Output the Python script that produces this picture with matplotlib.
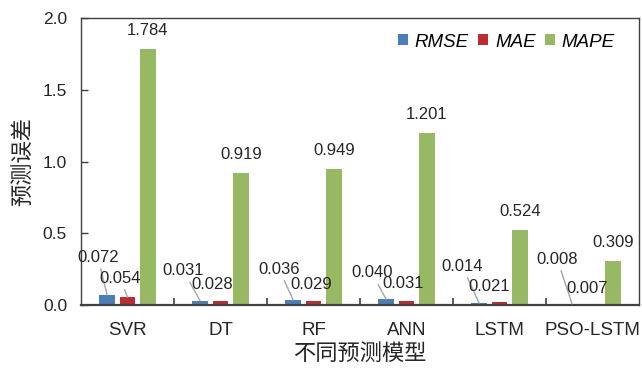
import numpy as np
import matplotlib
matplotlib.use('Agg')
import matplotlib.pyplot as plt

plt.rcParams['font.family'] = ['Liberation Sans', 'Noto Sans CJK SC']

# -----------------------------
# Dados
# -----------------------------
modelos = ['SVR', 'DT', 'RF', 'ANN', 'LSTM', 'PSO-LSTM']
rmse = [0.072, 0.031, 0.036, 0.040, 0.014, 0.008]
mae = [0.054, 0.028, 0.029, 0.031, 0.021, 0.007]
mape = [1.784, 0.919, 0.949, 1.201, 0.524, 0.309]

# posição dos rótulos (deslocamento x em relação ao grupo, altura y)
pos_rmse = [(-0.32, 0.334), (-0.40, 0.237), (-0.37, 0.250),
            (-0.37, 0.223), (-0.40, 0.270), (-0.38, 0.320)]
pos_mae = [(-0.08, 0.188), (-0.09, 0.146), (-0.02, 0.146),
           (-0.04, 0.153), (-0.11, 0.130), (-0.06, 0.118)]
linha_mae = [True, False, False, False, False, False]

cores = ['#4A7EBB', '#BE2B31', '#98B964']
cor_eixo = '#404040'
cor_linha = '#A6A6A6'
cor_texto = '#262626'

x = np.arange(len(modelos))
larg = 0.172
passo = 0.22

fig = plt.figure(figsize=(6.42, 3.69), dpi=100)
ax = fig.add_axes([81 / 642, 1 - 305 / 369, (639 - 81) / 642, (305 - 18) / 369])

ax.bar(x - passo, rmse, larg, color=cores[0], label='RMSE')
ax.bar(x, mae, larg, color=cores[1], label='MAE')
ax.bar(x + passo, mape, larg, color=cores[2], label='MAPE')

fs = 12
for i in range(len(modelos)):
    dx, y = pos_rmse[i]
    ax.annotate(f'{rmse[i]:.3f}', xy=(x[i] - passo, rmse[i]),
                xytext=(x[i] + dx, y), ha='center', va='center',
                fontsize=fs, color=cor_texto,
                arrowprops=dict(arrowstyle='-', color=cor_linha, lw=1,
                                shrinkA=1, shrinkB=0))
    dx, y = pos_mae[i]
    props = None
    if linha_mae[i]:
        props = dict(arrowstyle='-', color=cor_linha, lw=1, shrinkA=1, shrinkB=0)
    ax.annotate(f'{mae[i]:.3f}', xy=(x[i], mae[i]),
                xytext=(x[i] + dx, y), ha='center', va='center',
                fontsize=fs, color=cor_texto, arrowprops=props)
    ax.annotate(f'{mape[i]:.3f}', xy=(x[i] + passo, mape[i]),
                xytext=(0, 8), textcoords='offset points',
                ha='center', va='bottom', fontsize=fs, color=cor_texto)

ax.set_xlim(-0.5, 5.5)
ax.set_ylim(0, 2.0)
ax.set_yticks([0, 0.5, 1.0, 1.5, 2.0])
ax.set_yticklabels([f'{v:.1f}' for v in [0, 0.5, 1.0, 1.5, 2.0]])
ax.set_xticks(x)
ax.set_xticklabels(modelos)
ax.set_xticks(np.arange(0.5, 5.5, 1), minor=True)
ax.tick_params(axis='x', which='major', length=0, labelsize=13.5, pad=12, colors=cor_texto)
ax.tick_params(axis='x', which='minor', direction='in', length=5, width=1.2, color=cor_eixo)
ax.tick_params(axis='y', direction='in', length=5, width=1, color=cor_eixo,
               labelsize=12.5, labelcolor=cor_texto, pad=10)

for s in ax.spines.values():
    s.set_color(cor_eixo)
    s.set_linewidth(1)
ax.spines['bottom'].set_linewidth(1.6)

ax.set_xlabel('不同预测模型', fontsize=16, color=cor_texto, labelpad=4)
ax.set_ylabel('预测误差', fontsize=16, color=cor_texto, labelpad=6)

ax.legend(loc='center right', bbox_to_anchor=(0.957, 0.916), ncol=3, frameon=False,
          borderpad=0, borderaxespad=0,
          handlelength=0.53, handleheight=0.53, handletextpad=0.37,
          columnspacing=0.5, prop={'style': 'italic', 'size': 13.5})

fig.savefig('out.png', dpi=100)
